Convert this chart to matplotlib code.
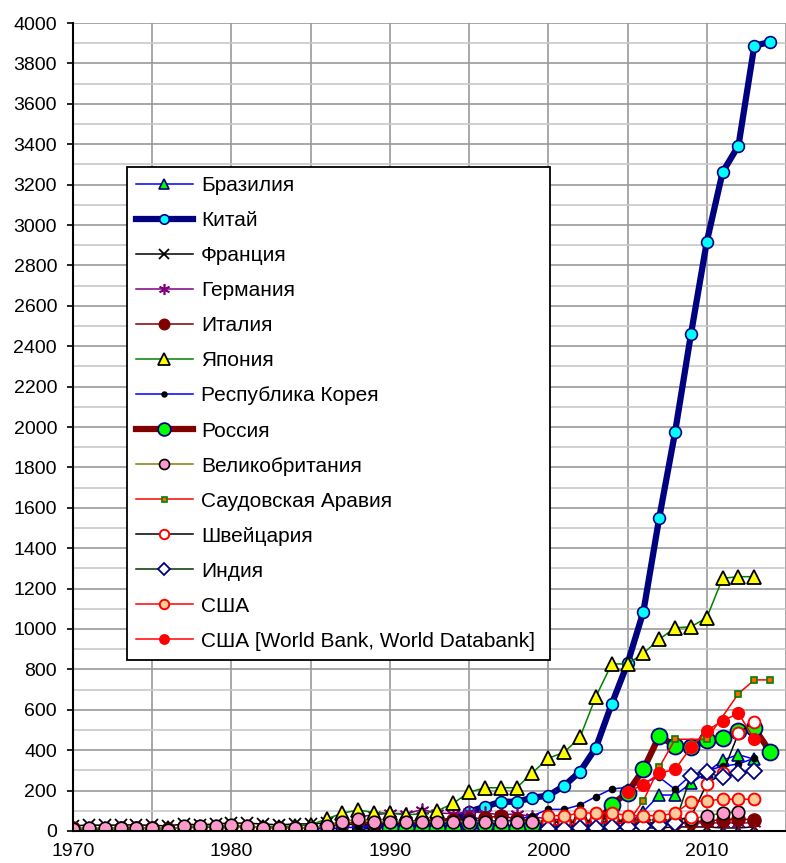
import matplotlib
matplotlib.use("Agg")
import matplotlib.pyplot as plt
import numpy as np

plt.rcParams['font.family'] = ['Liberation Sans', 'DejaVu Sans']

# --- data ---
yrs_brazil = list(range(1990, 2014))
brazil = [10, 10, 8, 8, 10, 10, 12, 12, 12, 15, 15, 15, 15, 18, 20, 30,
          96, 178, 178, 236, 290, 351, 378, 355]

yrs_china = list(range(1988, 2015))
china = [20, 25, 30, 30, 35, 40, 55, 96, 120, 145, 145, 165, 175, 224, 294,
         412, 629, 830, 1086, 1551, 1975, 2459, 2917, 3262, 3393, 3888, 3906]

yrs_france = list(range(1970, 2014))
france = [25, 30, 28, 30, 30, 28, 25, 35, 30, 35,
          40, 38, 35, 30, 35, 35, 40, 35, 30, 35,
          30, 30, 35, 30, 25, 30, 30, 25, 25, 20,
          20, 15, 15, 10, 10, 15, 15, 15, 20, 20,
          20, 15, 15, 20]

yrs_germany = list(range(1988, 2014))
germany = [70, 80, 88, 85, 105, 90, 85, 95, 90, 80, 85, 70, 60, 55, 50, 50,
           45, 45, 40, 40, 40, 40, 40, 40, 40, 40]

yrs_italy = list(range(1970, 2014))
italy = [15, 12, 12, 15, 15, 15, 10, 20, 20, 20,
         25, 22, 15, 15, 15, 15, 20, 35, 45, 40,
         40, 45, 50, 55, 55, 60, 65, 75, 60, 50,
         45, 45, 45, 40, 40, 35, 35, 35, 40, 45,
         50, 55, 60, 55]

yrs_japan = list(range(1970, 2014))
japan = [5, 8, 10, 10, 12, 12, 15, 15, 18, 18,
         20, 20, 22, 22, 25, 30, 60, 88, 104, 91,
         88, 80, 85, 100, 137, 192, 214, 214, 214, 289,
         360, 390, 464, 665, 827, 827, 880, 949, 1006, 1011,
         1056, 1251, 1259, 1259]

yrs_korea = list(range(1985, 2014))
korea = [10, 12, 15, 20, 25, 30, 30, 35, 35, 40, 45, 50, 50, 55, 76,
         107, 107, 129, 170, 208, 216, 240, 266, 206, 277, 299, 320, 332, 360]

yrs_russia = list(range(1990, 2015))
russia = [15, 12, 5, 12, 10, 38, 30, 13, 13, 30, 15, 15, 20, 30, 130,
          190, 305, 470, 421, 414, 450, 459, 497, 508, 393]

yrs_uk = list(range(1970, 2013))
uk = [10, 14, 14, 14, 14, 14, 5, 25, 25, 25,
      28, 25, 14, 14, 14, 14, 25, 46, 58, 46,
      46, 46, 46, 46, 46, 46, 46, 46, 46, 46,
      50, 50, 52, 55, 55, 55, 55, 55, 55, 58,
      76, 88, 96]

yrs_saudi = [2000, 2001, 2002, 2003, 2004, 2005, 2006, 2007, 2008, 2010, 2012, 2013, 2014]
saudi = [30, 30, 35, 40, 40, 40, 150, 315, 454, 454, 680, 748, 748]

yrs_swiss = list(range(2000, 2014))
swiss = [43, 43, 43, 58, 63, 38, 38, 43, 53, 70, 233, 286, 484, 541]

yrs_india = list(range(2000, 2014))
india = [10, 12, 15, 15, 18, 20, 25, 30, 40, 272, 290, 265, 285, 295]

yrs_usa = list(range(2000, 2014))
usa = [76, 76, 88, 90, 90, 76, 76, 76, 88, 145, 150, 157, 157, 157]

yrs_usa_wb = list(range(2005, 2014))
usa_wb = [195, 228, 286, 305, 414, 497, 545, 583, 454]

fig = plt.figure(figsize=(7.86, 8.63), dpi=100)
ax = fig.add_axes([0.0929, 0.0371, 0.9071, 0.9362])

ax.plot(yrs_brazil, brazil, color='#0000ff', lw=1.1, marker='^', ms=8.5,
        mfc='#00ff00', mec='#000080', mew=1.2, label='Бразилия')
ax.plot(yrs_china, china, color='#000080', lw=4.5, marker='o', ms=8.5,
        mfc='#00ffff', mec='#000080', mew=1.2, label='Китай')
ax.plot(yrs_france, france, color='black', lw=1.1, marker='x', ms=9,
        mec='black', mew=1.3, label='Франция')
ax.plot(yrs_germany, germany, color='#800080', lw=1.1, marker=(6, 2, 0), ms=10,
        mec='#800080', mew=1.2, label='Германия')
ax.plot(yrs_italy, italy, color='#800000', lw=1.1, marker='o', ms=9.5,
        mfc='#800000', mec='#800000', label='Италия')
ax.plot(yrs_japan, japan, color='#008000', lw=1.1, marker='^', ms=10.5,
        mfc='#ffff00', mec='black', mew=1.3, label='Япония')
ax.plot(yrs_korea, korea, color='#0000ff', lw=1.1, marker='o', ms=4.5,
        mfc='black', mec='black', label='Республика Корея')
ax.plot(yrs_russia, russia, color='#800000', lw=4.5, marker='o', ms=11.5,
        mfc='#00ff00', mec='#000080', mew=1.3, label='Россия')
ax.plot(yrs_uk, uk, color='#808000', lw=1.1, marker='o', ms=9,
        mfc='#ff99cc', mec='black', mew=1.2, label='Великобритания')
ax.plot(yrs_saudi, saudi, color='#ff0000', lw=1.1, marker='s', ms=4.5,
        mfc='#ff6600', mec='#008000', mew=1.2, label='Саудовская Аравия')
ax.plot(yrs_swiss, swiss, color='black', lw=1.1, marker='o', ms=8.5,
        mfc='white', mec='#ff0000', mew=1.4, label='Швейцария')
ax.plot(yrs_india, india, color='#003300', lw=1.1, marker='D', ms=8,
        mfc='white', mec='#000080', mew=1.3, label='Индия')
ax.plot(yrs_usa, usa, color='#ff0000', lw=1.1, marker='o', ms=8.5,
        mfc='#ffcc99', mec='#ff0000', mew=1.4, label='США')
ax.plot(yrs_usa_wb, usa_wb, color='#ff0000', lw=1.1, marker='o', ms=8.5,
        mfc='#ff0000', mec='#ff0000', label='США [World Bank, World Databank]')

ax.set_xlim(1970, 2015)
ax.set_ylim(0, 4000)
ax.set_xticks(range(1970, 2011, 10))
ax.set_xticks(range(1970, 2016, 5), minor=True)
ax.set_yticks(range(0, 4001, 200))
ax.set_yticks(range(100, 4000, 200), minor=True)

ax.grid(which='major', axis='both', color='#999999', lw=1.2)
ax.grid(which='minor', axis='y', color='#c8c8c8', lw=1.2)
ax.grid(which='minor', axis='x', color='#999999', lw=1.2)
ax.set_axisbelow(True)

ax.spines['top'].set_visible(False)
ax.spines['right'].set_visible(False)
ax.spines['left'].set_linewidth(1.5)
ax.spines['bottom'].set_linewidth(1.5)

ax.tick_params(axis='y', which='major', length=4.5, width=1.2, pad=7, labelsize=14)
ax.tick_params(axis='y', which='minor', length=0)
ax.tick_params(axis='x', which='both', length=0, pad=9, labelsize=14)

leg = ax.legend(loc='upper left', bbox_to_anchor=(0.0757, 0.214, 0.593, 0.608),
                mode='expand', fontsize=15, numpoints=1, fancybox=False,
                framealpha=1, edgecolor='black', handlelength=2.7,
                handletextpad=0.4, labelspacing=0.77, borderpad=0.45,
                borderaxespad=0, markerscale=0.8)
leg.get_frame().set_linewidth(1.3)

fig.savefig("out.png", dpi=100)
